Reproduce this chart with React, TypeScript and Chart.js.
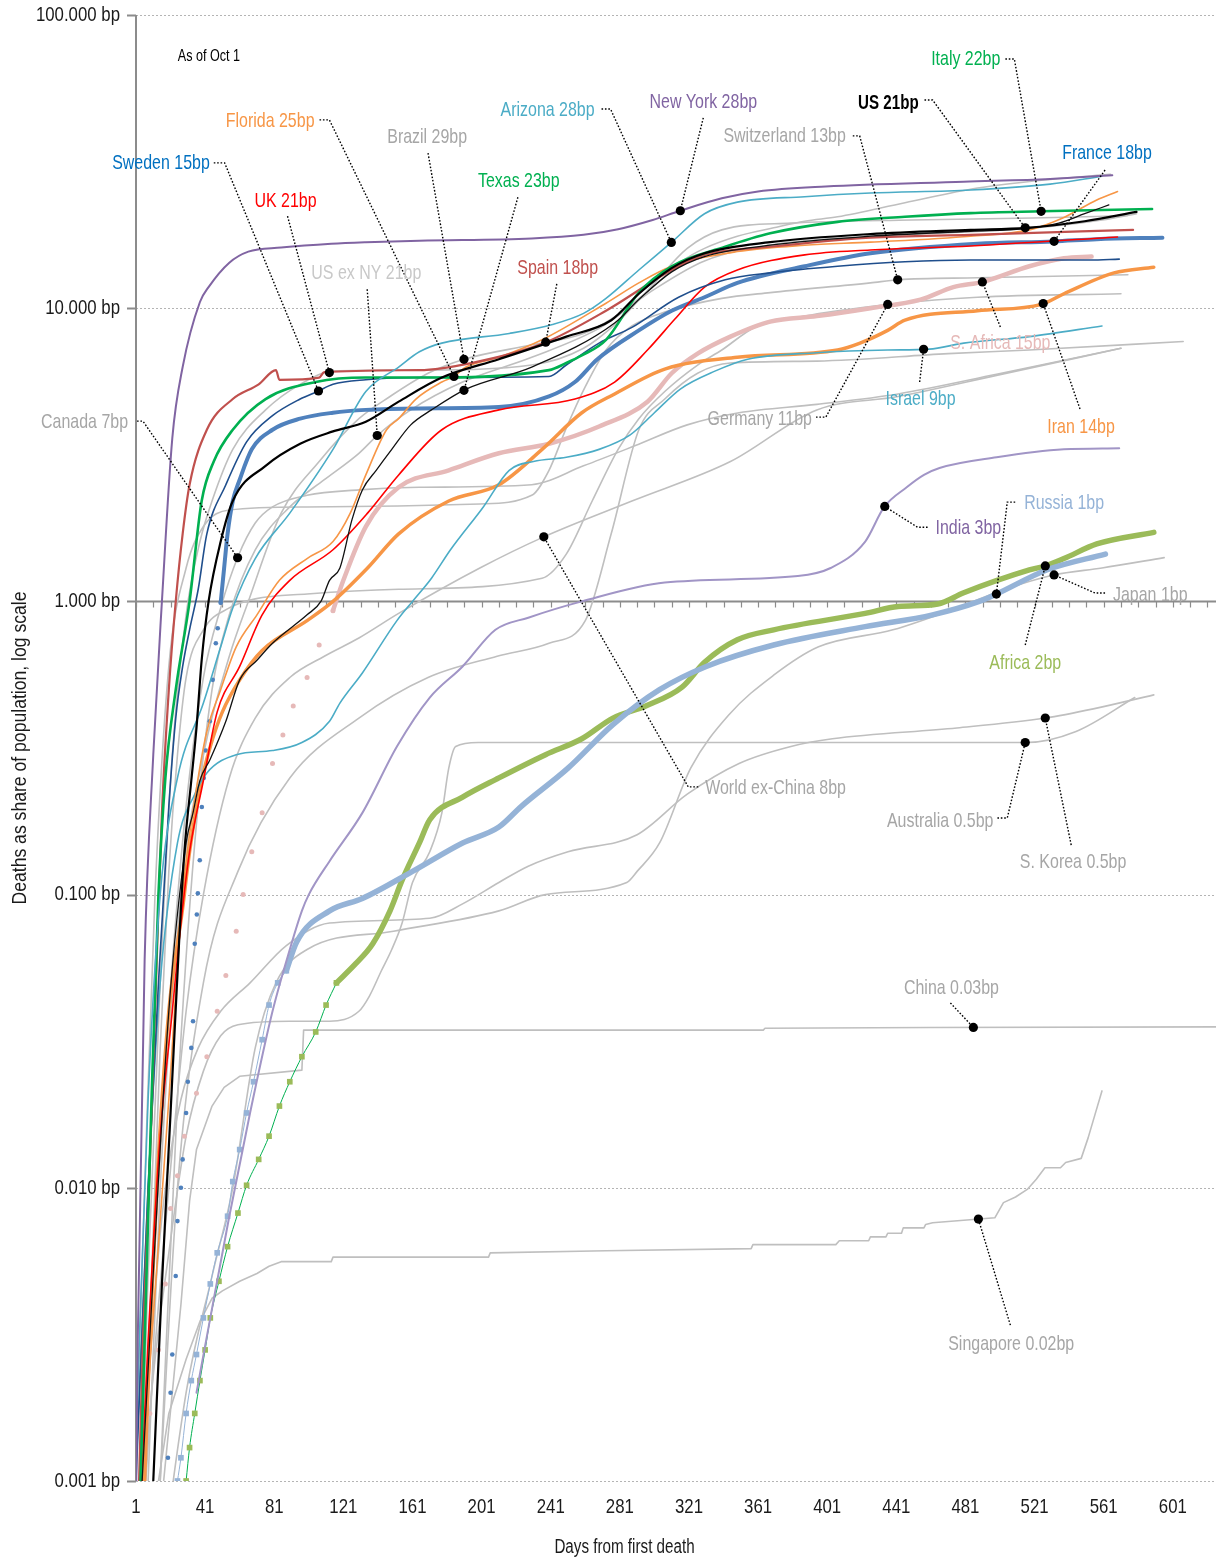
import React, { useEffect, useRef } from "react";
import { Chart, registerables } from "chart.js";
Chart.register(...registerables);

type Pt = [number, number];

// ---------- axes ----------
const xTickDays = [1, 41, 81, 121, 161, 201, 241, 281, 321, 361, 401, 441, 481, 521, 561, 601];
const yTickValues = [0.001, 0.01, 0.1, 1, 10, 100];
const xMin = 1;
const xMax = 626;
const yMin = 0.001;
const yMax = 100;
const minorTickStep = 10;
const xTitle = "Days from first death";
const yTitle = "Deaths as share of population, log scale";

// ---------- series (day from first death, deaths in bp of population) ----------
const newYork: Pt[] = [[1,0.0008],[2,0.003],[6,0.06],[11,0.3],[16,1.0],[22,3.6],[28,6.3],[38,10.5],[43,11.8],[55,14.3],[66,15.6],[85,16.1],[114,16.6],[134,16.8],[165,17.0],[230,17.3],[260,17.8],[280,18.6],[300,20.0],[316,21.5],[340,23.7],[361,25.0],[400,26.0],[480,27.0],[530,27.6],[566,28.4]];
const arizona: Pt[] = [[1,0.0014],[8,0.02],[15,0.1],[25,0.25],[40,0.45],[50,0.7],[57,0.95],[70,1.4],[90,2.0],[115,3.3],[134,5.2],[153,6.3],[165,7.1],[178,7.6],[217,8.2],[242,8.8],[260,9.6],[273,10.8],[292,13.5],[311,16.8],[330,21.0],[349,23.0],[388,24.0],[426,24.7],[484,25.3],[530,26.5],[560,28.2]];
const israel: Pt[] = [[1,0.0011],[8,0.01],[15,0.05],[25,0.15],[35,0.22],[42,0.26],[59,0.3],[80,0.31],[97,0.33],[113,0.39],[119,0.45],[132,0.57],[152,0.86],[161,1.0],[172,1.2],[183,1.5],[202,2.1],[217,2.8],[231,3.0],[250,3.1],[269,3.3],[287,3.7],[301,4.4],[316,5.3],[336,6.1],[355,6.7],[395,7.05],[436,7.2],[460,7.25],[480,7.6],[518,8.0],[560,8.7]];
const spain: Pt[] = [[1,0.0004],[5,0.003],[9,0.012],[13,0.06],[16,0.19],[20,0.5],[24,1.0],[28,1.7],[32,2.5],[42,3.85],[57,4.9],[72,5.5],[82,6.15],[84,5.7],[107,5.8],[110,6.05],[165,6.15],[195,6.5],[237,7.6],[273,9.8],[311,13.5],[330,15.2],[368,16.2],[426,17.4],[484,17.8],[578,18.5]];
const italy: Pt[] = [[1,0.0003],[6,0.003],[10,0.02],[14,0.1],[18,0.25],[24,0.5],[32,1.0],[39,2.2],[46,3.0],[57,3.85],[76,4.9],[105,5.6],[134,5.8],[165,5.8],[240,6.15],[250,6.5],[259,6.9],[273,7.8],[292,11.3],[311,13.9],[342,16.2],[368,18.0],[407,19.7],[446,20.5],[484,21.1],[525,21.4],[589,21.8]];
const sweden: Pt[] = [[1,0.001],[8,0.01],[14,0.05],[20,0.2],[24,0.4],[28,0.6],[32,0.8],[37,1.1],[42,1.7],[53,2.5],[65,3.5],[80,4.3],[96,4.9],[106,5.2],[115,5.5],[134,5.7],[165,5.8],[240,5.85],[250,6.4],[269,7.6],[288,8.6],[315,10.9],[342,12.5],[368,13.2],[407,13.9],[446,14.4],[484,14.6],[553,14.6],[570,14.7]];
const franceEarly: Pt[] = [[19.5,0.0012],[21,0.002],[22,0.0027],[24,0.005],[25,0.0077],[27,0.01],[28,0.0125],[30,0.018],[31,0.023],[33,0.03],[34,0.037],[35,0.068],[36.2,0.0855],[36.8,0.101],[37.9,0.131],[39.1,0.199],[40.2,0.25],[41.4,0.31],[43.7,0.39],[45.4,0.54],[47.2,0.72],[48.3,0.81],[50,0.99]];
const france: Pt[] = [[50,0.99],[52,1.3],[54,1.7],[57,2.2],[61,2.6],[68,3.3],[80,3.85],[96,4.2],[115,4.4],[134,4.5],[165,4.55],[211,4.6],[240,5.0],[255,5.6],[268,6.7],[292,8.4],[311,9.8],[330,10.9],[349,12.2],[388,13.9],[426,15.4],[488,16.6],[532,16.9],[557,17.2],[595,17.4]];
const us: Pt[] = [[11,0.001],[16,0.0047],[21,0.018],[26,0.07],[29,0.14],[33,0.245],[36,0.37],[39,0.63],[43,1.0],[50,1.6],[57,2.2],[76,2.9],[96,3.45],[115,3.8],[134,4.1],[153,4.8],[178,5.8],[211,6.7],[250,8.0],[276,9.1],[292,11.2],[311,13.7],[330,15.4],[368,16.8],[426,17.9],[484,18.5],[516,18.8],[550,19.8],[580,21.3]];
const texas: Pt[] = [[1,0.0004],[10,0.004],[20,0.04],[30,0.15],[34,0.19],[38,0.245],[44,0.29],[53,0.39],[61,0.54],[71,0.63],[80,0.72],[100,0.9],[108,1.0],[113,1.18],[119,1.3],[126,1.9],[132,2.4],[140,2.8],[149,3.3],[160,4.0],[172,4.5],[192,5.3],[230,6.3],[278,8.9],[292,10.7],[311,13.3],[330,15.0],[368,16.4],[426,17.6],[484,18.3],[516,18.7],[535,19.5],[550,21.0],[564,22.5]];
const florida: Pt[] = [[1,0.0005],[10,0.003],[20,0.02],[28,0.1],[36,0.23],[42,0.36],[50,0.5],[59,0.7],[71,0.9],[84,1.18],[100,1.4],[115,1.6],[125,2.0],[134,2.7],[146,3.85],[153,4.2],[163,4.9],[178,5.6],[185,5.85],[192,6.3],[211,6.8],[236,7.8],[273,10.4],[292,12.2],[311,13.9],[349,15.6],[388,16.4],[426,16.8],[484,17.6],[518,18.5],[538,20.4],[557,23.4],[569,25.0]];
const iran: Pt[] = [[6,0.001],[9,0.003],[13,0.01],[20,0.04],[28,0.09],[32,0.14],[38,0.23],[44,0.32],[51,0.42],[61,0.54],[74,0.68],[100,0.86],[115,1.0],[135,1.3],[153,1.7],[182,2.2],[211,2.5],[236,3.3],[259,4.4],[278,5.1],[307,6.2],[349,6.8],[407,7.2],[420,7.6],[436,8.4],[446,9.1],[488,9.8],[525,10.3],[538,11.2],[567,13.2],[590,13.8]];
const uk: Pt[] = [[1,0.0004],[8,0.003],[15,0.015],[22,0.04],[27,0.08],[32,0.14],[40,0.245],[48,0.42],[61,0.6],[74,0.9],[90,1.18],[115,1.5],[135,2.0],[153,2.7],[178,3.85],[211,4.5],[255,4.9],[278,5.6],[297,7.2],[313,9.2],[330,11.8],[349,13.5],[388,15.2],[426,15.8],[484,16.3],[569,17.5]];
const sAfricaEarly: Pt[] = [[9,0.0017],[14,0.0028],[18,0.0047],[21,0.0085],[25,0.011],[29,0.015],[36,0.021],[42,0.028],[48,0.04],[53,0.053],[59,0.075],[63,0.1],[68,0.14],[74,0.19],[80,0.28],[86,0.35],[92,0.44],[100,0.55],[107,0.71],[115,0.93]];
const sAfrica: Pt[] = [[115,0.93],[121,1.18],[134,1.8],[153,2.45],[182,2.8],[211,3.2],[240,3.45],[269,3.95],[297,4.8],[311,6.0],[326,7.0],[345,8.0],[368,9.0],[395,9.4],[426,10.0],[455,10.7],[474,11.8],[491,12.3],[518,13.9],[538,14.8],[554,15.0]];
const india: Pt[] = [[36,0.002],[44,0.0036],[55,0.008],[67,0.018],[80,0.04],[90,0.065],[97,0.088],[101,0.1],[113,0.13],[132,0.19],[152,0.32],[171,0.47],[190,0.6],[209,0.8],[228,0.88],[259,1.0],[307,1.16],[384,1.22],[403,1.3],[423,1.6],[434,2.1],[447,2.45],[457,2.7],[466,2.85],[499,3.1],[538,3.3],[570,3.33]];
const russiaEarly: Pt[] = [[25,0.001],[27,0.0012],[30,0.0017],[33,0.0022],[36,0.0027],[40,0.0036],[44,0.0047],[48,0.006],[54,0.008],[57,0.0105],[61,0.0135],[65,0.018],[69,0.023],[74,0.032],[78,0.042],[83,0.05],[88,0.055]];
const russia: Pt[] = [[88,0.055],[94,0.069],[113,0.088],[132,0.097],[161,0.12],[190,0.15],[211,0.17],[224,0.2],[251,0.27],[277,0.38],[304,0.5],[331,0.6],[370,0.71],[423,0.82],[462,0.9],[489,1.0],[499,1.06],[528,1.28],[562,1.45]];
const africaEarly: Pt[] = [[30,0.001],[32,0.0013],[35,0.0017],[38,0.0022],[41,0.0028],[44,0.0036],[49,0.0048],[54,0.0063],[60,0.0082],[65,0.0102],[72,0.0125],[78,0.015],[84,0.019],[90,0.023],[97,0.028],[105,0.034],[111,0.042],[117,0.05]];
const africa: Pt[] = [[117,0.05],[128,0.058],[138,0.068],[148,0.088],[155,0.112],[165,0.15],[171,0.18],[190,0.215],[211,0.25],[238,0.3],[259,0.34],[277,0.4],[296,0.44],[317,0.51],[330,0.62],[349,0.74],[370,0.8],[423,0.91],[442,0.96],[465,0.98],[480,1.07],[518,1.28],[527,1.32],[538,1.4],[557,1.57],[590,1.72]];
const brazil: Pt[] = [[8,0.001],[15,0.01],[27,0.1],[40,0.3],[55,0.65],[66,1.0],[85,2.0],[107,3.0],[130,4.2],[148,5.0],[170,6.0],[191,6.7],[230,7.5],[260,8.2],[280,9.5],[300,11.8],[318,14.6],[330,16.0],[349,17.6],[370,18.8],[388,19.8],[407,20.5],[446,22.9],[488,25.7],[530,27.5],[565,28.6]];
const usExNy: Pt[] = [[15,0.001],[25,0.02],[35,0.15],[45,0.5],[55,0.9],[70,1.5],[90,2.1],[110,2.6],[130,3.2],[141,3.7],[160,4.5],[190,5.6],[230,6.8],[270,8.6],[300,11.5],[330,14.5],[370,16.5],[430,17.6],[490,18.3],[530,19.0],[560,20.0],[580,21.0]];
const switzerland: Pt[] = [[1,0.0012],[6,0.01],[12,0.1],[20,0.6],[30,1.3],[40,1.8],[55,2.05],[100,2.1],[200,2.15],[230,2.3],[240,2.8],[250,3.9],[261,5.4],[273,7.2],[288,8.7],[307,9.7],[340,10.8],[368,11.3],[426,12.2],[442,12.5],[488,12.7],[575,13.0]];
const germany: Pt[] = [[5,0.001],[10,0.005],[15,0.03],[20,0.12],[25,0.3],[30,0.55],[40,0.8],[55,0.95],[70,1.02],[100,1.06],[153,1.1],[236,1.2],[250,1.45],[265,2.2],[280,3.3],[292,4.2],[307,5.2],[326,6.4],[340,7.2],[359,8.6],[388,9.4],[407,9.8],[436,10.3],[488,10.9],[571,11.2]];
const canada: Pt[] = [[1,0.0003],[10,0.004],[20,0.04],[30,0.2],[40,0.55],[50,0.95],[60,1.42],[70,1.85],[80,2.1],[100,2.3],[130,2.4],[165,2.45],[230,2.5],[260,2.9],[290,3.4],[320,4.0],[350,4.4],[395,4.7],[442,5.1],[499,5.95],[571,7.3]];
const worldExChina: Pt[] = [[1,0.0003],[10,0.002],[20,0.01],[30,0.04],[40,0.1],[55,0.25],[70,0.4],[90,0.55],[110,0.65],[130,0.75],[153,0.91],[200,1.3],[237,1.66],[288,2.2],[345,3.0],[395,4.5],[442,5.0],[499,5.9],[571,7.3]];
const lateRiser: Pt[] = [[15,0.001],[25,0.01],[40,0.05],[60,0.12],[90,0.25],[130,0.4],[170,0.55],[210,0.65],[240,0.72],[261,0.86],[276,1.7],[292,3.85],[307,4.9],[326,6.0],[345,6.5],[395,6.6],[471,7.0],[518,7.2],[607,7.7]];
const plateauSix: Pt[] = [[1,0.0003],[8,0.005],[15,0.05],[22,0.3],[30,0.9],[38,1.6],[45,2.2],[57,3.3],[76,4.5],[96,5.5],[115,6.1],[165,6.15],[230,6.4],[260,7.3],[280,9.0],[300,12.0],[320,16.0],[340,18.5],[380,19.5],[450,20.0],[520,20.3],[575,20.7]];
const japan: Pt[] = [[1,0.0001],[30,0.002],[45,0.005],[57,0.01],[70,0.03],[82,0.05],[100,0.065],[150,0.075],[211,0.088],[238,0.1],[285,0.11],[291,0.12],[304,0.15],[322,0.27],[344,0.41],[370,0.56],[396,0.7],[439,0.8],[476,0.95],[502,1.09],[532,1.23],[560,1.3],[596,1.41]];
const sKorea: Pt[] = [[1,0.0002],[8,0.002],[14,0.006],[18,0.01],[27,0.02],[37,0.03],[50,0.04],[67,0.05],[88,0.067],[113,0.08],[171,0.083],[190,0.093],[211,0.11],[228,0.125],[251,0.14],[291,0.16],[320,0.22],[350,0.28],[380,0.32],[404,0.34],[476,0.37],[527,0.4],[555,0.43],[590,0.48]];
const australia: Pt[] = [[1,0.0004],[10,0.002],[20,0.006],[30,0.015],[40,0.025],[50,0.033],[60,0.036],[90,0.037],[113,0.037],[130,0.04],[136,0.045],[143,0.055],[149,0.065],[155,0.08],[161,0.11],[171,0.14],[178,0.19],[182,0.27],[186,0.32],[199,0.33],[300,0.33],[400,0.33],[516,0.33],[545,0.36],[579,0.47]];
const china: Pt[] = [[17,0.001],[22,0.002],[27,0.004],[32,0.009],[36,0.0135],[45,0.019],[52,0.022],[61,0.024],[97,0.0252],[98,0.0345],[364,0.0345],[365,0.035],[460,0.0352],[626,0.0354]];
const singapore: Pt[] = [[14,0.001],[20,0.0017],[30,0.0026],[38,0.0035],[45,0.0042],[51,0.00445],[61,0.0048],[71,0.0051],[78,0.0054],[85,0.0056],[114,0.0056],[115,0.0058],[205,0.0058],[206,0.006],[273,0.0061],[357,0.0062],[358,0.0064],[406,0.0064],[408,0.0066],[425,0.0066],[426,0.0068],[435,0.0068],[436,0.007],[444,0.007],[445,0.0073],[457,0.0073],[458,0.0075],[462,0.0076],[498,0.0079],[503,0.0089],[510,0.0093],[517,0.0099],[522,0.0107],[527,0.0117],[536,0.0117],[539,0.0122],[548,0.0126],[552,0.0148],[556,0.0178],[560,0.0214]];

// ---------- styling ----------
const FONT = '"Liberation Sans", Arial, sans-serif';
const GRAY = "#bfbfbf";
const LABEL_GRAY = "#a6a6a6";
const TEXT_DARK = "#1a1a1a";

type Style = {
  data: Pt[];
  color: string;
  width: number;
  pointStyle?: "circle" | "rect";
  radius?: number;
  pointColor?: string;
  showLine?: boolean;
  straight?: boolean;
};

const seriesStyles: Style[] = [
  { data: us, color: "#000000", width: 2.2 },
  { data: texas, color: "#111111", width: 1.3 },
  { data: newYork, color: "#8064a2", width: 2 },
  { data: arizona, color: "#4bacc6", width: 1.6 },
  { data: italy, color: "#00b050", width: 2.6 },
  { data: spain, color: "#c0504d", width: 2.2 },
  { data: sweden, color: "#1f4e8c", width: 1.6 },
  { data: uk, color: "#ff0000", width: 1.6 },
  { data: florida, color: "#f79646", width: 1.6 },
  { data: israel, color: "#4bacc6", width: 1.6 },
  { data: iran, color: "#f79646", width: 3.5 },
  { data: france, color: "#4f81bd", width: 4 },
  { data: franceEarly, color: "#4f81bd", width: 0, pointStyle: "circle", radius: 2.3, showLine: false },
  { data: sAfrica, color: "#e6b9b8", width: 4.5 },
  { data: sAfricaEarly, color: "#e6b9b8", width: 0, pointStyle: "circle", radius: 2.5, showLine: false },
  { data: india, color: "#a195c6", width: 2 },
  { data: russia, color: "#95b3d7", width: 5.5 },
  { data: russiaEarly, color: "#95b3d7", width: 1, pointStyle: "rect", radius: 4 },
  { data: africa, color: "#9bbb59", width: 5.5 },
  { data: africaEarly, color: "#00b050", pointColor: "#9bbb59", width: 1, pointStyle: "rect", radius: 4 },
  { data: brazil, color: GRAY, width: 1.6 },
  { data: usExNy, color: GRAY, width: 1.6 },
  { data: switzerland, color: GRAY, width: 1.6 },
  { data: germany, color: GRAY, width: 1.6 },
  { data: canada, color: GRAY, width: 1.6 },
  { data: worldExChina, color: GRAY, width: 1.6 },
  { data: lateRiser, color: GRAY, width: 1.6 },
  { data: plateauSix, color: GRAY, width: 1.6 },
  { data: japan, color: GRAY, width: 1.6 },
  { data: sKorea, color: GRAY, width: 1.6 },
  { data: australia, color: GRAY, width: 1.6 },
  { data: china, color: GRAY, width: 1.6, straight: true },
  { data: singapore, color: GRAY, width: 1.6, straight: true },
];

// ---------- annotations (positions in data units: [day, bp]) ----------
type Note = {
  text: string;
  color: string;
  align: CanvasTextAlign;
  at: Pt;
  leader: Pt[];
  on: Pt[];
  day: number;
  bold?: boolean;
};

const notes: Note[] = [
  { text: "Sweden 15bp", color: "#0070c0", align: "right", at: [43.7, 31.3], leader: [[46, 31.3], [52.3, 31.3]], on: sweden, day: 106.6 },
  { text: "UK 21bp", color: "#ff0000", align: "center", at: [87.5, 23.2], leader: [[88.7, 20.6]], on: plateauSix, day: 112.9 },
  { text: "Florida 25bp", color: "#f79646", align: "right", at: [104.3, 43.5], leader: [[107.2, 43.9], [112.9, 43.9]], on: florida, day: 185 },
  { text: "Brazil 29bp", color: LABEL_GRAY, align: "center", at: [169.5, 38.4], leader: [[170, 33.8]], on: brazil, day: 190.8 },
  { text: "Texas 23bp", color: "#00b050", align: "center", at: [222.5, 27.2], leader: [[222, 23.9]], on: texas, day: 190.8 },
  { text: "US ex NY 21bp", color: "#c8c8c8", align: "center", at: [134.3, 13.2], leader: [[134.8, 11.6]], on: usExNy, day: 140.6 },
  { text: "Spain 18bp", color: "#c0504d", align: "center", at: [245, 13.7], leader: [[244.5, 12.1]], on: spain, day: 238.1 },
  { text: "Arizona 28bp", color: "#4bacc6", align: "right", at: [266.4, 47.4], leader: [[270.4, 47.8], [275.6, 47.8]], on: arizona, day: 310.8 },
  { text: "New York 28bp", color: "#8064a2", align: "center", at: [329.3, 50.5], leader: [[329.3, 44.6]], on: newYork, day: 316 },
  { text: "Switzerland 13bp", color: LABEL_GRAY, align: "right", at: [411.8, 38.7], leader: [[415.8, 38.7], [419.8, 38.7]], on: switzerland, day: 441.8 },
  { text: "US 21bp", color: "#000000", bold: true, align: "right", at: [453.9, 50.1], leader: [[457.3, 51.3], [462, 51.3]], on: us, day: 515.6 },
  { text: "Italy 22bp", color: "#00b050", align: "right", at: [501.2, 70.8], leader: [[504.1, 70.8], [509.3, 70.8]], on: italy, day: 524.8 },
  { text: "France 18bp", color: "#0070c0", align: "center", at: [562.9, 33.8], leader: [[561.8, 29.6]], on: france, day: 532.3 },
  { text: "Canada 7bp", color: LABEL_GRAY, align: "right", at: [-3.6, 4.09], leader: [[1.6, 4.12], [5, 4.12]], on: canada, day: 59.8 },
  { text: "Germany 11bp", color: LABEL_GRAY, align: "right", at: [392.2, 4.19], leader: [[394.5, 4.25], [400.2, 4.25]], on: germany, day: 436 },
  { text: "Israel 9bp", color: "#4bacc6", align: "center", at: [455, 4.9], leader: [[454.5, 5.6]], on: israel, day: 456.8 },
  { text: "S. Africa 15bp", color: "#e6b9b8", align: "center", at: [501.2, 7.61], leader: [[501.2, 8.63]], on: sAfrica, day: 490.8 },
  { text: "Iran 14bp", color: "#f79646", align: "center", at: [547.9, 3.93], leader: [[547.3, 4.53]], on: iran, day: 526 },
  { text: "India 3bp", color: "#8064a2", align: "left", at: [463.7, 1.78], leader: [[459.1, 1.79], [453.3, 1.79]], on: india, day: 434.3 },
  { text: "Russia 1bp", color: "#95b3d7", align: "left", at: [515, 2.17], leader: [[509.8, 2.18], [505.2, 2.18]], on: russia, day: 498.9 },
  { text: "Japan 1bp", color: LABEL_GRAY, align: "left", at: [566.4, 1.05], leader: [[561.8, 1.068], [556, 1.068]], on: japan, day: 532.3 },
  { text: "Africa 2bp", color: "#9bbb59", align: "center", at: [515.6, 0.616], leader: [[515.6, 0.71]], on: africa, day: 527.2 },
  { text: "World ex-China 8bp", color: LABEL_GRAY, align: "left", at: [330.4, 0.231], leader: [[326.4, 0.233], [320.6, 0.233]], on: worldExChina, day: 237 },
  { text: "Australia 0.5bp", color: LABEL_GRAY, align: "right", at: [497.2, 0.178], leader: [[499.5, 0.1825], [505.2, 0.1825]], on: australia, day: 515.6 },
  { text: "S. Korea 0.5bp", color: LABEL_GRAY, align: "center", at: [543.3, 0.129], leader: [[542.2, 0.1476]], on: sKorea, day: 527.2 },
  { text: "China 0.03bp", color: LABEL_GRAY, align: "center", at: [472.9, 0.048], leader: [[472.3, 0.0427]], on: china, day: 485.6 },
  { text: "Singapore 0.02bp", color: LABEL_GRAY, align: "center", at: [507.5, 0.00293], leader: [[507, 0.0034]], on: singapore, day: 488.5 },
];
const asOfNote: { text: string; at: Pt } = { text: "As of Oct 1", at: [25.2, 72.5] };

function valueOn(series: Pt[], day: number): number {
  for (let i = 1; i < series.length; i++) {
    const [d0, v0] = series[i - 1];
    const [d1, v1] = series[i];
    if (day >= d0 && day <= d1) {
      const t = d1 === d0 ? 0 : (day - d0) / (d1 - d0);
      return Math.pow(10, Math.log10(v0) + t * (Math.log10(v1) - Math.log10(v0)));
    }
  }
  return series[series.length - 1][1];
}

function drawLabel(
  ctx: CanvasRenderingContext2D,
  text: string,
  x: number,
  y: number,
  align: CanvasTextAlign,
  color: string,
  size: number,
  bold: boolean,
  sx: number,
  rotate = 0
) {
  ctx.save();
  ctx.font = `${bold ? "bold " : ""}${size}px ${FONT}`;
  ctx.fillStyle = color;
  ctx.textBaseline = "middle";
  ctx.textAlign = align;
  ctx.translate(x, y);
  if (rotate) ctx.rotate(rotate);
  ctx.scale(sx, 1);
  ctx.fillText(text, 0, 0);
  ctx.restore();
}

const overlayPlugin = {
  id: "overlay",
  beforeDatasetsDraw(chart: any) {
    const { ctx, chartArea, scales } = chart;
    const xs = scales.x;
    const ys = scales.y;
    ctx.save();
    ctx.strokeStyle = "#b4b4b4";
    ctx.lineWidth = 1;
    ctx.setLineDash([2, 2]);
    for (const v of yTickValues) {
      const py = Math.round(ys.getPixelForValue(v)) + 0.5;
      ctx.beginPath();
      ctx.moveTo(chartArea.left, py);
      ctx.lineTo(chartArea.right, py);
      ctx.stroke();
    }
    ctx.setLineDash([]);
    ctx.strokeStyle = "#8c8c8c";
    ctx.lineWidth = 2;
    ctx.beginPath();
    ctx.moveTo(chartArea.left, chartArea.top);
    ctx.lineTo(chartArea.left, chartArea.bottom);
    for (const v of yTickValues) {
      const py = Math.round(ys.getPixelForValue(v)) + 0.5;
      ctx.moveTo(chartArea.left - 9, py);
      ctx.lineTo(chartArea.left, py);
    }
    ctx.stroke();
    const py1 = Math.round(ys.getPixelForValue(1)) + 0.5;
    ctx.lineWidth = 2;
    ctx.beginPath();
    ctx.moveTo(chartArea.left, py1);
    ctx.lineTo(chartArea.right, py1);
    ctx.stroke();
    ctx.lineWidth = 1.2;
    ctx.beginPath();
    for (let d = xMin; d <= xMax; d += minorTickStep) {
      const px = Math.round(xs.getPixelForValue(d)) + 0.5;
      ctx.moveTo(px, py1);
      ctx.lineTo(px, py1 + 6);
    }
    ctx.stroke();
    ctx.restore();

    for (const v of yTickValues) {
      drawLabel(ctx, v.toFixed(3) + " bp", chartArea.left - 16, ys.getPixelForValue(v), "right", TEXT_DARK, 21, false, 0.8);
    }
    for (const d of xTickDays) {
      drawLabel(ctx, String(d), xs.getPixelForValue(d), chartArea.bottom + 26, "center", TEXT_DARK, 21, false, 0.8);
    }
    drawLabel(ctx, xTitle, xs.getPixelForValue(283.7), chartArea.bottom + 66, "center", TEXT_DARK, 20, false, 0.76);
    drawLabel(ctx, yTitle, chartArea.left - 116, (chartArea.top + chartArea.bottom) / 2, "center", TEXT_DARK, 20, false, 0.88, -Math.PI / 2);
  },
  afterDatasetsDraw(chart: any) {
    const { ctx, scales } = chart;
    const xs = scales.x;
    const ys = scales.y;
    const px = (d: number) => xs.getPixelForValue(d);
    const py = (v: number) => ys.getPixelForValue(v);
    for (const n of notes) {
      const mx = px(n.day);
      const my = py(valueOn(n.on, n.day));
      const pts = n.leader.map(([d, v]) => [px(d), py(v)]);
      pts.push([mx, my]);
      ctx.save();
      ctx.strokeStyle = "#000";
      ctx.lineWidth = 1.4;
      ctx.setLineDash([1.6, 1.8]);
      ctx.beginPath();
      ctx.moveTo(pts[0][0], pts[0][1]);
      for (let i = 1; i < pts.length; i++) ctx.lineTo(pts[i][0], pts[i][1]);
      ctx.stroke();
      ctx.setLineDash([]);
      ctx.fillStyle = "#000";
      ctx.beginPath();
      ctx.arc(mx, my, 4.6, 0, Math.PI * 2);
      ctx.fill();
      ctx.restore();
      drawLabel(ctx, n.text, px(n.at[0]), py(n.at[1]), n.align, n.color, 21, !!n.bold, n.bold ? 0.72 : 0.76);
    }
    drawLabel(ctx, asOfNote.text, px(asOfNote.at[0]), py(asOfNote.at[1]), "left", "#000", 17, false, 0.74);
  },
};

export default function App() {
  const ref = useRef<HTMLCanvasElement | null>(null);
  useEffect(() => {
    if (!ref.current) return;
    const chart = new Chart(ref.current, {
      type: "line",
      data: {
        datasets: seriesStyles.map((s) => ({
          data: s.data.map(([x, y]) => ({ x, y })),
          borderColor: s.color,
          backgroundColor: s.pointColor ?? s.color,
          borderWidth: s.width,
          pointRadius: s.radius ?? 0,
          pointStyle: s.pointStyle ?? "circle",
          pointBorderWidth: 0,
          pointHoverRadius: 0,
          showLine: s.showLine ?? true,
          cubicInterpolationMode: s.straight ? "default" : "monotone",
          tension: 0,
          fill: false,
          borderJoinStyle: "round",
          borderCapStyle: "round",
        })) as any,
      },
      options: {
        responsive: false,
        animation: false,
        devicePixelRatio: 1,
        layout: { padding: { top: 15, right: 0, bottom: 0, left: 0 } },
        plugins: { legend: { display: false }, tooltip: { enabled: false } },
        events: [],
        scales: {
          x: {
            type: "linear",
            min: xMin,
            max: xMax,
            afterBuildTicks: (s: any) => {
              s.ticks = xTickDays.map((v) => ({ value: v }));
            },
            afterFit: (s: any) => {
              s.height = 79;
            },
            grid: { display: false, drawTicks: false },
            border: { display: false },
            ticks: { display: false },
          },
          y: {
            type: "logarithmic",
            min: yMin,
            max: yMax,
            afterBuildTicks: (s: any) => {
              s.ticks = yTickValues.map((v) => ({ value: v }));
            },
            afterFit: (s: any) => {
              s.width = 136;
            },
            grid: { display: false, drawTicks: false },
            border: { display: false },
            ticks: { display: false },
          },
        },
      } as any,
      plugins: [overlayPlugin],
    });
    return () => chart.destroy();
  }, []);
  return (
    <div style={{ position: "absolute", left: 0, top: 0, width: 1220, height: 1560, background: "#fff" }}>
      <canvas ref={ref} width={1220} height={1560} style={{ display: "block", width: 1220, height: 1560 }} />
    </div>
  );
}
